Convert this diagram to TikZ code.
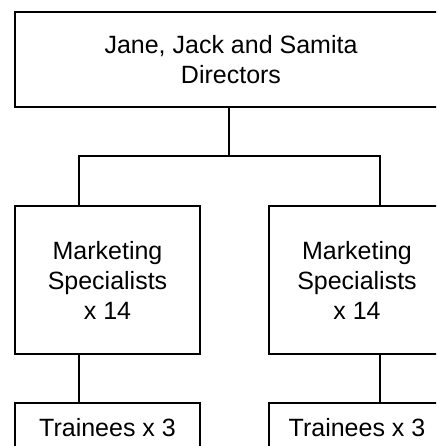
\documentclass[tikz,border=0pt]{standalone}
\usepackage{fontspec}
\setmainfont{Liberation Sans}
\begin{document}
\begin{tikzpicture}[x=1pt,y=-1pt,
  box/.style={draw=black,line width=2pt,inner sep=0pt,align=center,
    font=\fontsize{25}{30}\selectfont},
  link/.style={draw=black,line width=2pt}]
\useasboundingbox (0,0) rectangle (436,446);
\clip (0,0) rectangle (436,446);
% boxes
\node[box,minimum width=432pt,minimum height=95pt] (dir) at (231,59.5)
  {Jane, Jack and Samita\\Directors};
\node[box,minimum width=185pt,minimum height=148pt] (mL) at (107.5,280)
  {Marketing\\Specialists\\x 14};
\node[box,minimum width=176pt,minimum height=148pt] (mR) at (357,280)
  {Marketing\\Specialists\\x 14};
\node[box,minimum width=185pt,minimum height=50pt] (tL) at (107.5,428)
  {Trainees x 3};
\node[box,minimum width=176pt,minimum height=50pt] (tR) at (357,428)
  {Trainees x 3};
% junction coordinates
\coordinate (jM) at (229,156);
\coordinate (jL) at (79,156);
\coordinate (jR) at (380,156);
% connectors
\draw[link] (dir.south -| jM) -- (jM);
\draw[link] (mL.north -| jL) -- (jL) -- (jR) -- (mR.north -| jR);
\draw[link] (mL.south -| jL) -- (tL.north -| jL);
\draw[link] (mR.south -| jR) -- (tR.north -| jR);
\end{tikzpicture}
\end{document}
